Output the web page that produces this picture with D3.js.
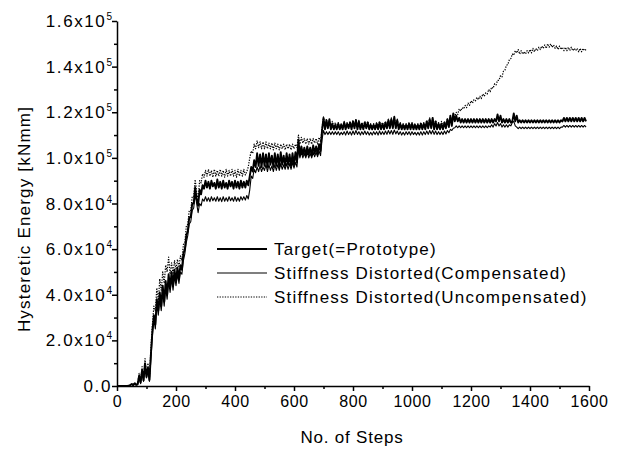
<!DOCTYPE html>
<html>
<head>
<meta charset="utf-8">
<script src="https://cdn.jsdelivr.net/npm/d3@7"></script>
<style>
  body { margin: 0; background: #fff; }
  svg { font-family: Arial, "Liberation Sans", Helvetica, sans-serif; }
</style>
</head>
<body>
<div id="chart"></div>
<script>
// one value every 5 steps, energy in 10^3 kNmm
const stepSize = 5;

const targetEnergy = [
  0, 0, 0, 0, 0, 0, 0, 0, 0.2, 0.4,
  0.9, 0.3, 1.2, 0.5, 0.8, 4.5, 1.5, 7, 2.5, 10,
  4, 8, 2.6, 14, 24, 31, 27, 38, 33, 41,
  35, 44, 37, 46, 40, 49, 43, 50, 44, 51,
  46, 52, 47, 53, 51, 58, 60, 66, 68, 74,
  74, 80, 80, 87, 82, 79, 86, 84, 88, 86.5,
  90, 87, 89.5, 86.5, 90, 87.5, 89, 86.5, 90.5, 87,
  89.5, 86.5, 90, 87, 89, 86.5, 90, 87.5, 89.5, 86.5,
  90, 87, 89.5, 86.5, 90, 87, 89.5, 87, 90, 88,
  92, 96, 94, 99, 96, 102, 96.5, 101.5, 96, 102,
  96.5, 101.5, 96, 102, 97, 101, 96, 102, 96.5, 101.5,
  96, 102.5, 97, 101, 96.5, 102, 97, 101.5, 96.5, 102,
  97, 102.5, 98, 108, 101, 105, 101.5, 104.5, 101, 105,
  101.5, 104.5, 101, 105.5, 102, 105, 101.5, 106, 103, 112,
  117.5, 112.5, 116.5, 113, 117, 112.5, 115, 112.5, 114.5, 112.5,
  115, 112.5, 114.5, 112.5, 115.5, 112.5, 115, 113, 115.5, 112.5,
  116, 113, 116.5, 112.5, 116, 112.5, 115, 112.5, 115.5, 113,
  115.5, 112.5, 114.5, 112.5, 114.5, 112.5, 115, 112.5, 115.5, 112.5,
  115, 112.5, 115.5, 113, 116.5, 113, 117, 113, 118, 113,
  116.5, 112.5, 115, 112.5, 114.5, 112.5, 114.5, 112.5, 115, 112.5,
  115, 112.5, 114.5, 112.5, 114.5, 112.5, 115, 112.5, 115, 112.5,
  116, 113, 117, 113, 117.5, 112.5, 116, 112.5, 115, 112.5,
  115, 112.5, 115.5, 113, 117, 113.5, 118.5, 114, 119.5, 116,
  118.5, 116, 117.5, 115.5, 117, 115.5, 117, 115.5, 117, 115.5,
  117, 115.5, 117, 115.5, 117, 115.5, 117, 115.5, 117, 115.5,
  117, 115.5, 117, 115.5, 117, 115.5, 117, 116, 119, 116,
  118.5, 115.5, 117, 115.5, 117, 115.5, 117, 115.5, 116, 119.5,
  116, 118.5, 115.5, 116.5, 115.5, 116.5, 115.5, 116.5, 115.5, 116.5,
  115.5, 116.5, 115.5, 116.5, 115.5, 116.5, 115.5, 116.5, 115.5, 116.5,
  115.5, 116.5, 115.5, 116.5, 115.5, 116.5, 115.5, 116.5, 115.5, 116.5,
  115.5, 116.5, 116, 117.5, 116, 117.5, 116, 117.5, 116, 117.5,
  116, 117.5, 116, 117.5, 116, 117.5, 116, 117.5, 116
];

const compensatedEnergy = [
  0, 0, 0, 0, 0, 0, 0, 0, 0.2, 0.3,
  0.7, 0.3, 1, 0.4, 0.6, 3.5, 1, 6, 2, 9,
  3.5, 7, 2, 12, 22, 29, 25, 36, 31, 38,
  33, 41, 35, 43, 38, 46, 41, 47, 42, 48,
  44, 49, 45, 50, 49, 55, 58, 63, 66, 71,
  72, 77, 78, 84, 80, 76, 80, 79, 82, 81,
  83, 81, 82.5, 80.8, 83, 81.2, 82.5, 81, 83, 81,
  82.5, 80.8, 83, 81, 82.5, 81, 83, 81.2, 82.5, 81,
  83, 81, 82.5, 81, 83, 81.5, 83, 81.5, 83.5, 82,
  86, 92, 91, 95, 93.5, 96, 94, 96.5, 94, 96,
  94.5, 97, 94, 97, 94.5, 96.5, 94, 97, 94.5, 97,
  94.5, 97.5, 95, 97, 95, 97.5, 95, 97.5, 95, 98,
  95.5, 98, 96, 104, 100, 102.5, 100, 102, 100, 102.5,
  100, 102, 100, 102.5, 100.5, 102.5, 100.5, 103, 101, 108,
  112, 110.2, 111.5, 110.2, 111.5, 110.2, 111.5, 110.2, 111.5, 110.2,
  111.5, 110, 111.2, 110.2, 111.5, 110, 111.8, 110.2, 111.5, 110,
  111.8, 110.2, 112, 110.3, 111.5, 110, 111.5, 110.2, 111.8, 110.2,
  111.5, 110, 111.2, 110, 111.5, 110.2, 111.5, 110, 111.8, 110.2,
  111.5, 110.2, 111.8, 110.3, 112, 110.5, 112, 110.3, 112.2, 110.5,
  111.8, 110.2, 111.5, 110, 111.2, 110, 111.5, 110.2, 111.5, 110,
  111.5, 110.2, 111.2, 110, 111.2, 110, 111.5, 110, 111.5, 110.2,
  111.8, 110.3, 112, 110.5, 112, 110.3, 111.8, 110.2, 111.5, 110.2,
  111.5, 110.2, 111.8, 110.5, 112, 111, 112.5, 112, 113, 113.2,
  114, 113.2, 114, 113.2, 114, 113.2, 114, 113.2, 114, 113.2,
  114, 113.2, 114, 113.2, 114, 113.2, 114, 113.2, 114, 113.2,
  114, 113.2, 114, 113.5, 114.5, 113.5, 115, 114, 115.5, 114,
  115, 113.5, 114.5, 113.5, 114.5, 113.5, 114.5, 114, 115.5, 116,
  114, 113.5, 112.8, 113.5, 112.8, 113.5, 112.8, 113.5, 112.8, 113.5,
  112.8, 113.5, 112.8, 113.5, 112.8, 113.5, 112.8, 113.5, 112.8, 113.5,
  112.8, 113.5, 112.8, 113.5, 112.8, 113.5, 112.8, 113.5, 112.8, 113.5,
  112.8, 113.5, 113.5, 114.2, 113.5, 114.2, 113.5, 114.2, 113.5, 114.2,
  113.5, 114.2, 113.5, 114.2, 113.5, 114.2, 113.5, 114.2, 113.5
];

const uncompensatedEnergy = [
  0, 0, 0, 0, 0, 0, 0, 0, 0.3, 0.5,
  1, 0.4, 1.5, 0.6, 1, 5.5, 2, 8.5, 3.5, 12,
  5, 10, 3.5, 17, 27, 35, 33, 43, 37, 47,
  42, 50, 45, 53, 50, 56.5, 49, 54, 49, 55,
  51, 55.5, 52, 57, 55, 62, 63, 70, 71, 77,
  77, 83, 83, 90.5, 85, 82, 90, 89, 93, 91.5,
  94.5, 92, 95, 92, 94.5, 91.5, 95, 92, 94.5, 92,
  95, 92, 94.5, 91.5, 95, 92, 94.5, 92, 95, 92,
  94.5, 91.5, 95, 92, 94.5, 92, 95, 92.5, 94, 96,
  100, 103, 102, 106, 104, 107.5, 104.5, 107, 104, 107,
  104, 107, 104, 106.5, 104, 106.5, 103.5, 106.5, 104, 106,
  103.5, 106, 104, 106, 103.5, 106, 104, 106, 103.5, 106,
  104, 106, 104.5, 110, 106, 109, 106.5, 108.5, 106, 108.5,
  106, 108.5, 106, 108.5, 106.5, 108.5, 106, 109, 107, 113,
  118, 114, 117, 113.5, 116, 113.5, 116, 113.5, 115.5, 113.5,
  115.5, 113.5, 115, 113.5, 116, 113.5, 115.5, 114, 116, 113.5,
  116.5, 114, 117, 113.5, 116.5, 113.5, 115.5, 113.5, 116, 114,
  116, 113.5, 115, 113.5, 115, 113.5, 115.5, 113.5, 116, 113.5,
  115.5, 113.5, 116, 114, 117, 114, 117.5, 114, 118, 114,
  117, 113.5, 115.5, 113.5, 115, 113.5, 115, 113.5, 115.5, 113.5,
  115.5, 113.5, 115, 113.5, 115, 113.5, 115.5, 113.5, 115.5, 113.5,
  116.5, 114, 117.5, 114, 117.5, 113.5, 116.5, 113.5, 115.5, 113.5,
  116, 113.5, 116, 114, 117, 115, 118, 116, 119.5, 118,
  120, 119, 121.5, 120.5, 122, 121.5, 123, 122, 124, 123,
  125, 124, 125.5, 125, 126.5, 125.5, 127, 126, 128, 127,
  128.5, 128, 130, 129, 131, 130.5, 132.5, 132, 134, 134,
  136, 135.5, 138, 138.5, 140.5, 141, 143, 143.5, 145.5, 145,
  147, 146, 147.5, 145.5, 147, 145.5, 146.5, 145.5, 147, 146,
  147.5, 146, 148, 146.5, 148, 147, 148.5, 147.5, 149, 148,
  149.5, 148, 150, 148.5, 150, 148.5, 149.5, 148, 149, 147.5,
  149, 147.5, 148.5, 147, 148.5, 147, 148.5, 147, 148.5, 147,
  148, 147, 148, 146.5, 148, 146.5, 148, 147, 147.5
];

const xTicks = [0, 200, 400, 600, 800, 1000, 1200, 1400, 1600];
const xMinorTicks = [100, 300, 500, 700, 900, 1100, 1300, 1500];
const yTicks = [0, 20, 40, 60, 80, 100, 120, 140, 160];
const yMinorTicks = [10, 30, 50, 70, 90, 110, 130, 150];
const yTickMantissa = ["0.0", "2.0x10", "4.0x10", "6.0x10", "8.0x10", "1.0x10", "1.2x10", "1.4x10", "1.6x10"];
const yTickExponent = ["", "4", "4", "4", "4", "5", "5", "5", "5"];

const seriesNames = [
  "Target(=Prototype)",
  "Stiffness Distorted(Compensated)",
  "Stiffness Distorted(Uncompensated)"
];

const width = 644, height = 450;

const svg = d3.select("#chart").append("svg")
  .attr("width", width)
  .attr("height", height);

const x = d3.scaleLinear().domain([0, 1600]).range([117, 589]);
const y = d3.scaleLinear().domain([0, 160]).range([386, 21]);

// series, drawn so the target sits on top
const line = d3.line()
  .x((d, i) => x(i * stepSize))
  .y(d => y(d));

const styles = [
  { width: 1.9, dash: null },
  { width: 1.1, dash: null },
  { width: 1.2, dash: "1.3,1.3" }
];
const allSeries = [targetEnergy, compensatedEnergy, uncompensatedEnergy];

[2, 1, 0].forEach(k => {
  svg.append("path")
    .datum(allSeries[k])
    .attr("d", line)
    .attr("fill", "none")
    .attr("stroke", "#000")
    .attr("stroke-width", styles[k].width)
    .attr("stroke-linejoin", "round")
    .attr("stroke-dasharray", styles[k].dash);
});

// axes
const xAxis = svg.append("g")
  .attr("transform", `translate(0,${y(0)})`)
  .call(d3.axisBottom(x).tickValues(xTicks).tickSize(5).tickSizeOuter(0).tickPadding(5)
    .tickFormat(d3.format("d")));
svg.append("g")
  .attr("transform", `translate(0,${y(0)})`)
  .call(d3.axisBottom(x).tickValues(xMinorTicks).tickSize(3).tickFormat(""))
  .select(".domain").remove();

const yAxis = svg.append("g")
  .attr("transform", `translate(${x(0)},0)`)
  .call(d3.axisLeft(y).tickValues(yTicks).tickSize(5).tickSizeOuter(0).tickFormat(""));
svg.append("g")
  .attr("transform", `translate(${x(0)},0)`)
  .call(d3.axisLeft(y).tickValues(yMinorTicks).tickSize(3).tickFormat(""))
  .select(".domain").remove();

svg.selectAll(".domain, .tick line")
  .attr("stroke", "#000")
  .attr("stroke-width", 1.5);

xAxis.selectAll(".tick text")
  .attr("fill", "#000")
  .style("font-size", "16px")
  .style("letter-spacing", "0.6px");

yTicks.forEach((t, i) => {
  const label = svg.append("text")
    .attr("x", x(0) - 5)
    .attr("y", y(t) + 6)
    .attr("text-anchor", "end")
    .style("font-size", "17px")
    .style("letter-spacing", "1.6px");
  label.append("tspan").text(yTickMantissa[i]);
  if (yTickExponent[i]) {
    label.append("tspan")
      .attr("dy", -7)
      .style("font-size", "10px")
      .style("letter-spacing", "0px")
      .text(yTickExponent[i]);
  }
});

// axis titles
svg.append("text")
  .attr("x", 352)
  .attr("y", 443)
  .attr("text-anchor", "middle")
  .style("font-size", "17px")
  .style("letter-spacing", "0.8px")
  .text("No. of Steps");

svg.append("text")
  .attr("transform", "translate(30,219) rotate(-90)")
  .attr("text-anchor", "middle")
  .style("font-size", "17px")
  .style("letter-spacing", "1.2px")
  .text("Hysteretic Energy [kNmm]");

// legend
const legendRows = [249, 273, 297];
seriesNames.forEach((name, k) => {
  svg.append("line")
    .attr("x1", 217).attr("x2", 267)
    .attr("y1", legendRows[k]).attr("y2", legendRows[k])
    .attr("stroke", "#000")
    .attr("stroke-width", styles[k].width)
    .attr("stroke-dasharray", styles[k].dash);
  svg.append("text")
    .attr("x", 274)
    .attr("y", legendRows[k] + 6)
    .style("font-size", "17px")
    .style("letter-spacing", "1.2px")
    .text(name);
});
</script>
</body>
</html>
